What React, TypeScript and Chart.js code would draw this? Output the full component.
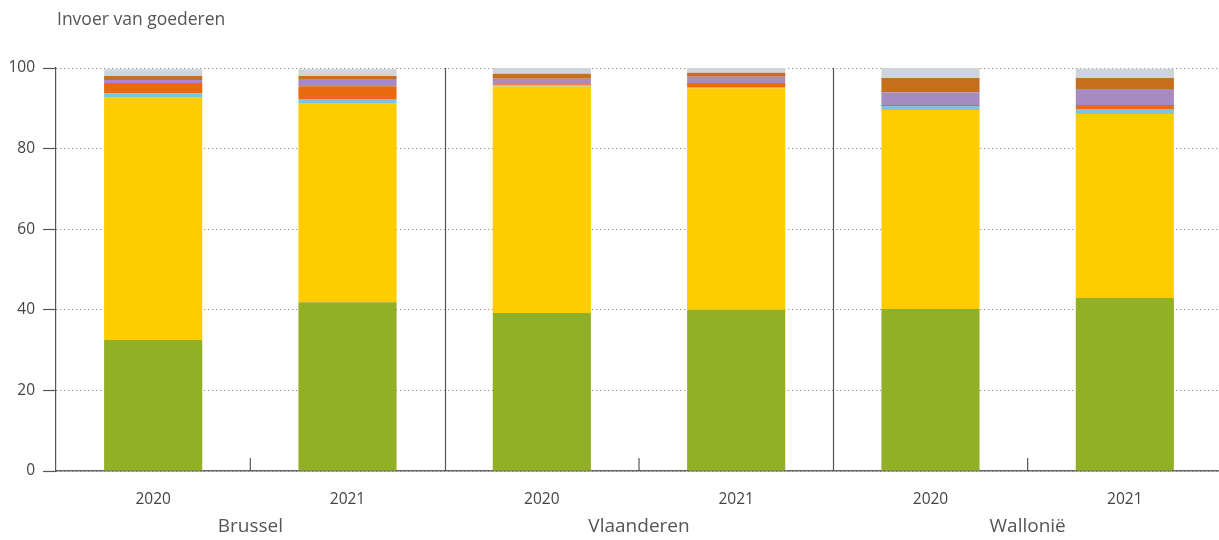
import React, { useEffect, useRef } from "react";
import { Chart, registerables } from "chart.js";

Chart.register(...registerables);

const title = "Invoer van goederen";
const categories = ["2020", "2021", "2020", "2021", "2020", "2021"];
const groups = ["Brussel", "Vlaanderen", "Wallonië"];
const yTicks = [0, 20, 40, 60, 80, 100];

const green = [32.5, 41.9, 39.2, 40.0, 40.2, 42.9];
const yellow = [60.1, 49.4, 56.2, 55.0, 49.4, 45.7];
const lightBlue = [1.1, 1.0, 0.25, 0.3, 1.0, 1.2];
const orange = [2.6, 3.2, 0.3, 1.0, 0.2, 1.0];
const purple = [0.7, 1.8, 1.4, 1.5, 3.2, 4.0];
const brown = [1.0, 0.7, 1.2, 1.0, 3.5, 2.7];
const grey = [1.7, 1.7, 1.5, 1.2, 2.5, 2.3];

const seriesList = [
  { label: "Groen", data: green, color: "#92B026" },
  { label: "Geel", data: yellow, color: "#FFCC00" },
  { label: "Lichtblauw", data: lightBlue, color: "#7DC3DB" },
  { label: "Oranje", data: orange, color: "#EA6A0F" },
  { label: "Paars", data: purple, color: "#A78BC0" },
  { label: "Bruin", data: brown, color: "#C76F1D" },
  { label: "Grijs", data: grey, color: "#CDD5D8" },
];

const FONT = "'Open Sans', 'Noto Sans', sans-serif";

const decorPlugin = {
  id: "decor",
  afterDraw(chart: any) {
    const ctx = chart.ctx;
    const x = chart.scales.x;
    const area = chart.chartArea;
    ctx.save();
    ctx.strokeStyle = "#555";
    ctx.lineWidth = 1.2;
    for (let g = 0; g < groups.length; g++) {
      const a = x.getPixelForValue(g * 2);
      const b = x.getPixelForValue(g * 2 + 1);
      const mid = (a + b) / 2;
      ctx.beginPath();
      ctx.moveTo(mid, area.bottom);
      ctx.lineTo(mid, area.bottom - 13);
      ctx.stroke();
      if (g < groups.length - 1) {
        const c = x.getPixelForValue(g * 2 + 2);
        const sep = Math.round((b + c) / 2) + 0.5;
        ctx.beginPath();
        ctx.moveTo(sep, area.bottom);
        ctx.lineTo(sep, area.top);
        ctx.stroke();
      }
      ctx.fillStyle = "#555";
      ctx.font = `19px ${FONT}`;
      ctx.textAlign = "center";
      ctx.textBaseline = "middle";
      ctx.fillText(groups[g], mid, 527);
    }
    ctx.fillStyle = "#555";
    ctx.font = `17.5px ${FONT}`;
    ctx.textAlign = "left";
    ctx.textBaseline = "middle";
    ctx.fillText(title, 57, 20);
    ctx.restore();
  },
};

export default function App() {
  const ref = useRef<HTMLCanvasElement | null>(null);
  useEffect(() => {
    document.body.style.margin = "0";
    const canvas = ref.current!;
    const chart = new Chart(canvas, {
      type: "bar",
      data: {
        labels: categories,
        datasets: seriesList.map((s) => ({
          label: s.label,
          data: s.data,
          backgroundColor: s.color,
          borderWidth: 0,
          categoryPercentage: 1,
          barPercentage: 0.505,
        })),
      },
      options: {
        responsive: false,
        animation: false,
        layout: { padding: { top: 68, right: 0, left: 0, bottom: 0 } },
        plugins: {
          legend: { display: false },
          tooltip: { enabled: false },
          title: { display: false },
        },
        scales: {
          x: {
            stacked: true,
            grid: { display: false },
            border: { display: true, color: "#666", width: 1.6 },
            ticks: {
              color: "#444",
              font: { family: FONT, size: 15.5 },
              padding: 11,
              maxRotation: 0,
            },
            afterFit(scale: any) {
              scale.height = 69;
            },
          },
          y: {
            stacked: true,
            min: 0,
            max: 100,
            afterBuildTicks(scale: any) {
              scale.ticks = yTicks.map((v) => ({ value: v }));
            },
            grid: {
              color: "#777",
              tickLength: 13,
              tickColor: "#555",
              tickWidth: 1.2,
              tickBorderDash: [],
            } as any,
            border: { display: true, color: "#555", width: 1.2, dash: [1, 3] },
            ticks: {
              color: "#444",
              font: { family: FONT, size: 15.5 },
              padding: 8,
            },
            afterFit(scale: any) {
              scale.width = 56;
            },
          },
        },
      },
      plugins: [decorPlugin],
    });
    return () => chart.destroy();
  }, []);
  return (
    <div style={{ width: 1219, height: 540, overflow: "hidden" }}>
      <canvas ref={ref} width={1222} height={540} style={{ display: "block" }} />
    </div>
  );
}
